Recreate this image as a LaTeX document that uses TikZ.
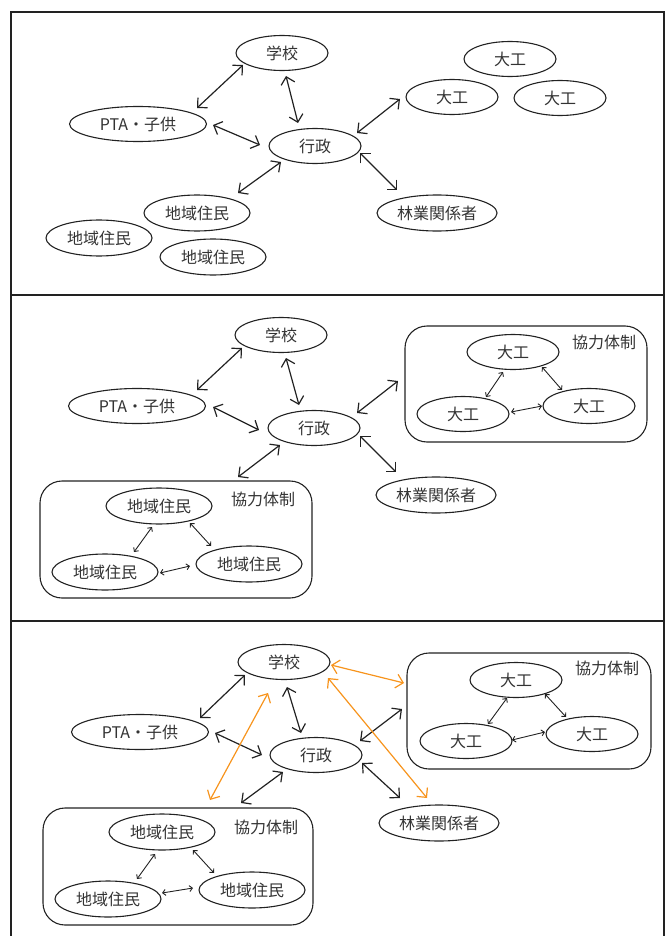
\documentclass[tikz,border=0pt]{standalone}
\usepackage{fontspec}
\setmainfont{Noto Sans CJK JP}
\usetikzlibrary{arrows.meta,shapes.geometric}
\definecolor{lc}{HTML}{222222}
\definecolor{tc}{HTML}{333333}
\definecolor{oc}{HTML}{F7941D}
\begin{document}
\begin{tikzpicture}[x=1pt,y=-1pt,
  txt/.style={font=\fontsize{16pt}{16pt}\selectfont, text=tc},
  el/.style={ellipse, draw=lc, line width=1.1pt, inner sep=0pt, minimum width=92pt, minimum height=35pt, txt},
  pta/.style={el, minimum width=137pt},
  res/.style={el, minimum width=106pt, minimum height=36pt},
  frs/.style={el, minimum width=120pt, minimum height=36pt},
  grp/.style={draw=lc, line width=1.1pt, rounded corners=22pt, inner sep=0pt},
  lab/.style={txt, inner sep=0pt},
  frame/.style={draw=lc, line width=2.4pt},
  arr/.style={draw=lc, line width=1.2pt, {Straight Barb[length=7pt,width=14pt]}-{Straight Barb[length=7pt,width=14pt]}},
  sarr/.style={draw=lc, line width=0.9pt, {Straight Barb[length=3pt,width=6pt]}-{Straight Barb[length=3pt,width=6pt]}},
  oarr/.style={arr, draw=oc}
]
\useasboundingbox (0,0) rectangle (669,936);
% frame
\draw[frame] (11,940) -- (11,12) -- (664,12) -- (664,940);
\draw[frame] (11,295) -- (664,295);
\draw[frame] (11,621) -- (664,621);

% ---------------- Panel 1 ----------------
\node[el] (p1g) at (282,53) {学校};
\node[el] (p1d1) at (510,59) {大工};
\node[el] (p1d2) at (452,97) {大工};
\node[el] (p1d3) at (560,98) {大工};
\node[pta] (p1p) at (138,124) {PTA・子供};
\node[el] (p1k) at (315,146) {行政};
\node[res] (p1c1) at (197,213) {地域住民};
\node[frs] (p1r) at (437,213) {林業関係者};
\node[res] (p1c2) at (99,238) {地域住民};
\node[res] (p1c3) at (213,257) {地域住民};

\draw[arr] ([shift={(59,-16)}]p1p.center) -- ([shift={(-39,12)}]p1g.center);
\draw[arr] ([shift={(4,23)}]p1g.center) -- ([shift={(-17,-23)}]p1k.center);
\draw[arr] ([shift={(75,1)}]p1p.center) -- ([shift={(-55,-1)}]p1k.center);
\draw[arr] ([shift={(42,-13)}]p1k.center) -- ([shift={(-52,2)}]p1d2.center);
\draw[arr] ([shift={(41,-20)}]p1c1.center) -- ([shift={(-34,16)}]p1k.center);
\draw[arr] ([shift={(45,7)}]p1k.center) -- ([shift={(-40,-23)}]p1r.center);

% ---------------- Panel 2 ----------------
\node[grp, minimum width=242pt, minimum height=116pt] (p2bR) at (526,384) {};
\node[lab] (p2lR) at (604,342) {協力体制};
\node[grp, minimum width=272pt, minimum height=117pt] (p2bL) at (176,539.5) {};
\node[lab] (p2lL) at (263,499) {協力体制};
\node[el] (p2g) at (281,335) {学校};
\node[el] (p2d1) at (513,352) {大工};
\node[el] (p2d2) at (463,414) {大工};
\node[el] (p2d3) at (589,406) {大工};
\node[pta] (p2p) at (137,406) {PTA・子供};
\node[el] (p2k) at (314,428) {行政};
\node[frs] (p2r) at (436,495) {林業関係者};
\node[res] (p2c1) at (159,506) {地域住民};
\node[res] (p2c2) at (105,572) {地域住民};
\node[res] (p2c3) at (249,564) {地域住民};

\draw[arr] ([shift={(60,-16)}]p2p.center) -- ([shift={(-39,13)}]p2g.center);
\draw[arr] ([shift={(5,23)}]p2g.center) -- ([shift={(-15,-23)}]p2k.center);
\draw[arr] ([shift={(76,1)}]p2p.center) -- ([shift={(-55,2)}]p2k.center);
\draw[arr] ([shift={(43,-15)}]p2k.center) -- ([shift={(-128,-3)}]p2bR.center);
\draw[arr] ([shift={(62,-62.5)}]p2bL.center) -- ([shift={(-34,17)}]p2k.center);
\draw[arr] ([shift={(46,8)}]p2k.center) -- ([shift={(-40,-23)}]p2r.center);
\draw[sarr] ([shift={(-10,20)}]p2d1.center) -- ([shift={(23,-17)}]p2d2.center);
\draw[sarr] ([shift={(29,15)}]p2d1.center) -- ([shift={(-27,-16)}]p2d3.center);
\draw[sarr] ([shift={(48,-2)}]p2d2.center) -- ([shift={(-47,0)}]p2d3.center);
\draw[sarr] ([shift={(-7,21)}]p2c1.center) -- ([shift={(29,-20)}]p2c2.center);
\draw[sarr] ([shift={(31,17)}]p2c1.center) -- ([shift={(-38,-18)}]p2c3.center);
\draw[sarr] ([shift={(55,1)}]p2c2.center) -- ([shift={(-59,2)}]p2c3.center);

% ---------------- Panel 3 ----------------
\node[grp, minimum width=244pt, minimum height=116pt] (p3bR) at (529,711) {};
\node[lab] (p3lR) at (607,668) {協力体制};
\node[grp, minimum width=270pt, minimum height=117pt] (p3bL) at (178,866.5) {};
\node[lab] (p3lL) at (266,827) {協力体制};
\node[el] (p3g) at (284,662) {学校};
\node[el] (p3d1) at (516,680) {大工};
\node[el] (p3d2) at (466,741) {大工};
\node[el] (p3d3) at (592,734) {大工};
\node[pta] (p3p) at (140,732) {PTA・子供};
\node[el] (p3k) at (316,755) {行政};
\node[frs] (p3r) at (439,823) {林業関係者};
\node[res] (p3c1) at (162,832) {地域住民};
\node[res] (p3c2) at (108,899) {地域住民};
\node[res] (p3c3) at (252,890) {地域住民};

\draw[arr] ([shift={(60,-14)}]p3p.center) -- ([shift={(-39,13)}]p3g.center);
\draw[arr] ([shift={(3,25)}]p3g.center) -- ([shift={(-15,-22)}]p3k.center);
\draw[arr] ([shift={(75,1)}]p3p.center) -- ([shift={(-54,0)}]p3k.center);
\draw[arr] ([shift={(44,-14)}]p3k.center) -- ([shift={(-127,-2)}]p3bR.center);
\draw[arr] ([shift={(63,-63.5)}]p3bL.center) -- ([shift={(-33,17)}]p3k.center);
\draw[arr] ([shift={(46,8)}]p3k.center) -- ([shift={(-39,-25)}]p3r.center);
\draw[sarr] ([shift={(-9,18)}]p3d1.center) -- ([shift={(22,-17)}]p3d2.center);
\draw[sarr] ([shift={(29,14)}]p3d1.center) -- ([shift={(-26,-17)}]p3d3.center);
\draw[sarr] ([shift={(46,-1)}]p3d2.center) -- ([shift={(-47,-2)}]p3d3.center);
\draw[sarr] ([shift={(-7,22)}]p3c1.center) -- ([shift={(29,-20)}]p3c2.center);
\draw[sarr] ([shift={(31,18)}]p3c1.center) -- ([shift={(-38,-17)}]p3c3.center);
\draw[sarr] ([shift={(54,-6)}]p3c2.center) -- ([shift={(-59,-2)}]p3c3.center);
\draw[oarr] ([shift={(47,3)}]p3g.center) -- ([shift={(-125,-28)}]p3bR.center);
\draw[oarr] ([shift={(44,16)}]p3g.center) -- ([shift={(-12,-25)}]p3r.center);
\draw[oarr] ([shift={(-16,31)}]p3g.center) -- ([shift={(32,-66.5)}]p3bL.center);
\end{tikzpicture}
\end{document}
